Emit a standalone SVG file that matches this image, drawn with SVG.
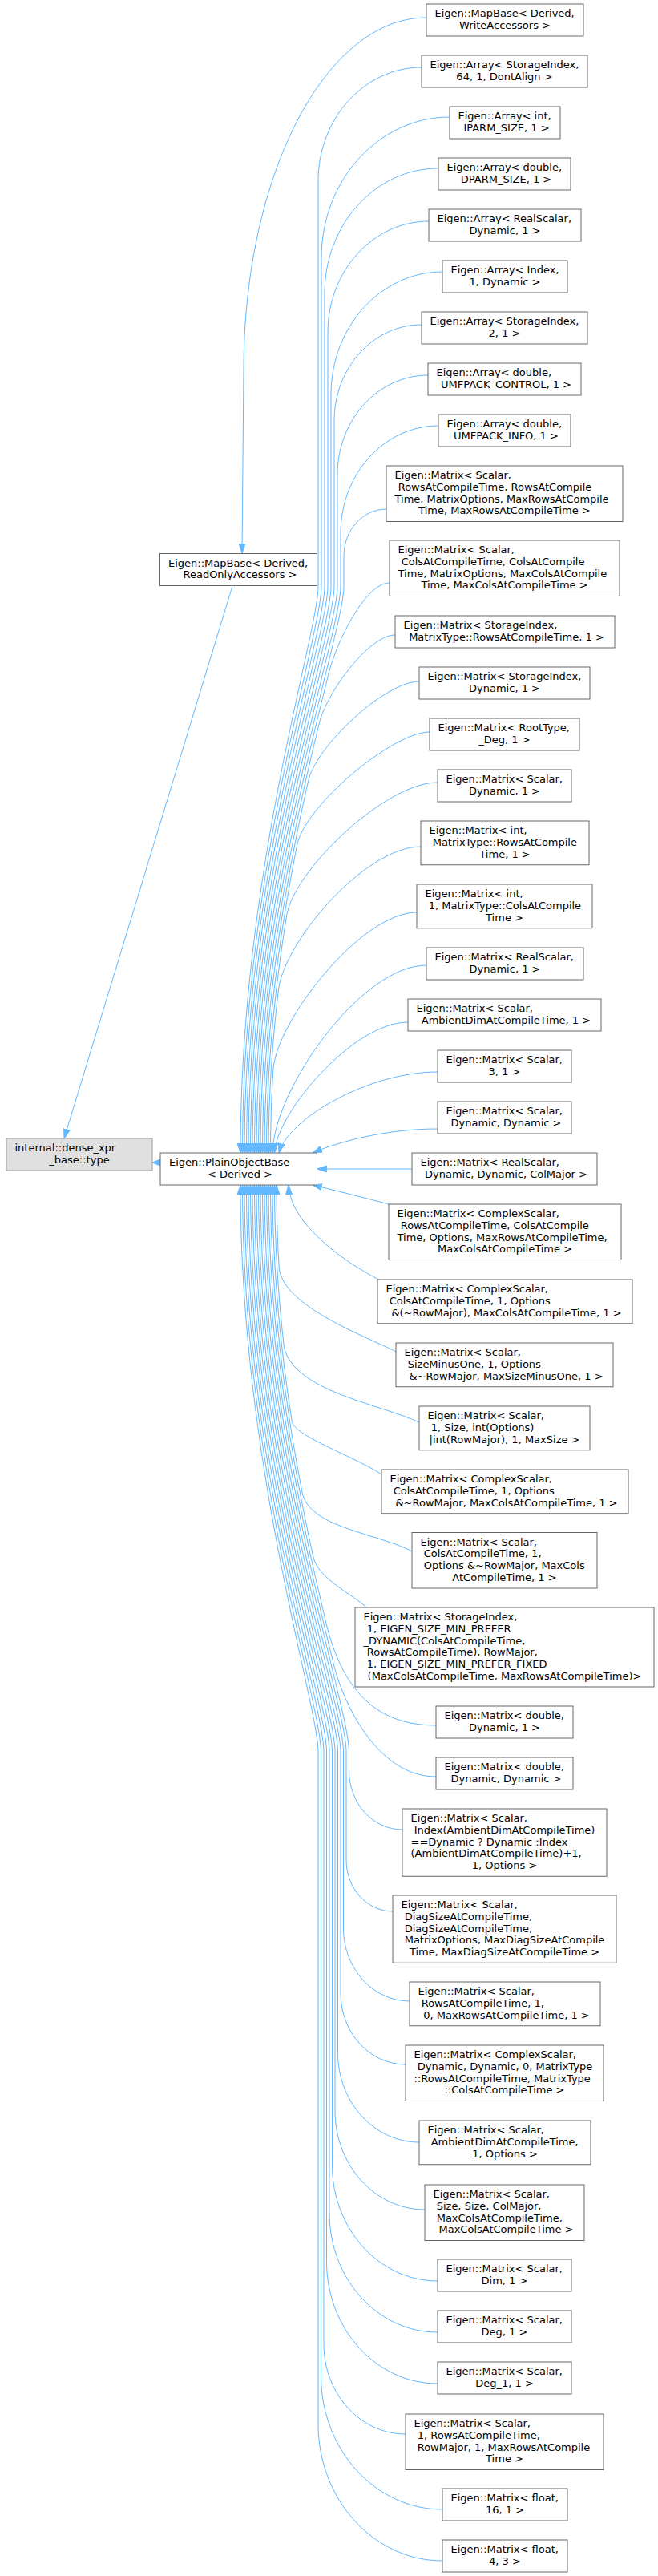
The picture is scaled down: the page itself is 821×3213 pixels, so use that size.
<svg xmlns="http://www.w3.org/2000/svg" width="821" height="3213" viewBox="0 0 821 3213">
<style>
.n rect{fill:#fff;stroke:#666;stroke-width:1}
.cur rect{fill:#e0e0e0;stroke:#999;stroke-width:1}
text{font-family:"DejaVu Sans","Liberation Sans",sans-serif;font-size:13px;fill:#000}
.m{text-anchor:middle}
.e path{fill:none;stroke:#63b8ff;stroke-width:1;marker-end:url(#ah)}
.e path.nm{marker-end:none}
.e polygon{fill:#63b8ff;stroke:#63b8ff;stroke-width:1}
</style>
<defs>
<marker id="ah" markerWidth="12" markerHeight="10" refX="12" refY="5" orient="auto" markerUnits="userSpaceOnUse"><path d="M0,1 L12,5 L0,9 z" fill="#63b8ff" stroke="#63b8ff" stroke-width="1"/></marker>
</defs>
<rect x="0" y="0" width="821" height="3213" fill="#fff"/>
<g class="e" id="edges">
<path d="M532,22 C406,22 304,219 304,462 L302,690"/>
<path d="M290,731 L80,1420"/>
<path class="nm" d="M200,1450 L195,1450"/>
<polygon points="190,1450 200,1446 200,1454"/>
<path d="M526,84 C454.8,84 397,147.6 397,225.9 L397,731 C397,791 300,1088 300,1438"/>
<path d="M561,146 C472.7,146 401,224.8 401,322 L401,731 C401,791 302.5,1088 302.5,1438"/>
<path d="M547,210 C468.6,210 405,280 405,366.2 L405,731 C405,791 305,1088 305,1438"/>
<path d="M535,276 C465.4,276 409,338.1 409,414.6 L409,731 C409,791 307.5,1088 307.5,1438"/>
<path d="M552,339 C475.3,339 413,407.5 413,491.9 L413,731 C413,791 310,1088 310,1438"/>
<path d="M526,405 C465.8,405 417,458.7 417,524.9 L417,731 C417,791 312.5,1088 312.5,1438"/>
<path d="M534,468 C471.6,468 421,523.7 421,592.3 L421,731 C421,791 315,1088 315,1438"/>
<path d="M547,531 C479.7,531 425,591.1 425,665.2 L425,731 C425,791 317.5,1088 317.5,1438"/>
<path d="M482,635 C452.7,635 429,661.1 429,693.3 L429,731 C429,791 320,1088 320,1438"/>
<path d="M486,727 C455,727 417.7,804.9 409.1,844 C376.6,974 322.5,1193 322.5,1438"/>
<path d="M493,792 C460,792 405.9,865.8 397.6,904.9 C365.3,1037.1 325,1228 325,1438"/>
<path d="M523,850 C480,850 392.85,931.6 384.25,975.75 C355.85,1101.25 327.5,1263 327.5,1438"/>
<path d="M536,913 C490,913 378.7,1005.9 370.4,1055.2 C348.4,1166.5 330,1298 330,1438"/>
<path d="M546,976 C480,976 365,1087.8 357.6,1142.3 C343,1232.8 332.5,1333 332.5,1438"/>
<path d="M525,1056 C455,1056 353.1,1176.1 347.3,1235.8 C339.7,1300.1 335,1368 335,1438"/>
<path d="M520,1138 C450,1138 343.9,1274.9 340.8,1334.8 C338.7,1368.5 337.5,1403 337.5,1438"/>
<path d="M532,1204 C450,1204 341,1360 340,1438"/>
<path d="M509,1275 C440,1275 344,1390 342.5,1438"/>
<path d="M546,1337 C460,1337 360,1395 348,1438"/>
<path d="M546,1408 C480,1408 420,1425 390,1438"/>
<path d="M514,1458 L395.5,1458"/>
<path d="M485,1502 C455,1494 415,1484 390,1478"/>
<path d="M473,1596 C440,1580 362,1530 360,1478"/>
<path d="M494,1686 C460,1668 352.5,1630 348.2,1581.2 C346.2,1547.5 345,1513 345,1478"/>
<path d="M523,1774 C470,1750 366.8,1735 354.4,1680.2 C347.1,1615.9 342.5,1548 342.5,1478"/>
<path d="M476,1839 C445,1818 369.5,1792 364.4,1773.7 C350.1,1683.2 340,1583 340,1478"/>
<path d="M514,1935 C470,1912 384.3,1905.2 376.9,1860.8 C355.4,1749.5 337.5,1618 337.5,1478"/>
<path d="M457,2005 C440,1988 396.2,1969.7 390.5,1940.25 C362.75,1814.75 335,1653 335,1478"/>
<path d="M544,2152 C455,2152 420.4,2089.3 403.8,2011.1 C372.1,1878.9 332.5,1688 332.5,1478"/>
<path d="M544,2216 C470,2216 426.2,2120.9 415.45,2072 C383.4,1942 330,1723 330,1478"/>
<path d="M502,2282 C465.3,2282 435.5,2249.2 435.5,2208.85 L435.5,2185 C435.5,2125 327.5,1828 327.5,1478"/>
<path d="M490,2384 C458,2384 432,2355.4 432,2320.2 L432,2185 C432,2125 325,1828 325,1478"/>
<path d="M511,2496 C465.5,2496 428.5,2455.3 428.5,2405.25 L428.5,2185 C428.5,2125 322.5,1828 322.5,1478"/>
<path d="M506,2575 C461.3,2575 425,2535.1 425,2485.9 L425,2185 C425,2125 320,1828 320,1478"/>
<path d="M523,2672 C467,2672 421.5,2622 421.5,2560.35 L421.5,2185 C421.5,2125 317.5,1828 317.5,1478"/>
<path d="M530,2756 C468.2,2756 418,2700.8 418,2632.8 L418,2185 C418,2125 315,1828 315,1478"/>
<path d="M546,2845 C473.4,2845 414.5,2780.2 414.5,2700.35 L414.5,2185 C414.5,2125 312.5,1828 312.5,1478"/>
<path d="M546,2909 C471.5,2909 411,2842.5 411,2760.5 L411,2185 C411,2125 310,1828 310,1478"/>
<path d="M546,2973 C469.5,2973 407.5,2904.7 407.5,2820.65 L407.5,2185 C407.5,2125 307.5,1828 307.5,1478"/>
<path d="M506,3036 C449.7,3036 404,2985.7 404,2923.8 L404,2185 C404,2125 305,1828 305,1478"/>
<path d="M552,3130 C468.4,3130 400.5,3055.3 400.5,2963.35 L400.5,2185 C400.5,2125 302.5,1828 302.5,1478"/>
<path d="M552,3194 C466.4,3194 397,3117.6 397,3023.5 L397,2185 C397,2125 300,1828 300,1478"/>
</g>
<g id="internal" class="n cur"><rect x="8" y="1420" width="182" height="40"/><text x="18.5" y="1436">internal::dense_xpr</text><text class="m" x="99" y="1450.75">_base::type</text></g>
<g id="mapbase_ro" class="n"><rect x="199.5" y="690.5" width="196" height="40"/><text x="210" y="706.5">Eigen::MapBase&lt; Derived,</text><text class="m" x="299.5" y="721.25">ReadOnlyAccessors &gt;</text></g>
<g id="plainobjectbase" class="n"><rect x="200" y="1438" width="195.5" height="40"/><text x="211" y="1454">Eigen::PlainObjectBase</text><text class="m" x="299.5" y="1468.75">&lt; Derived &gt;</text></g>
<g id="n1" class="n"><rect x="532" y="5" width="196" height="40"/><text x="542.5" y="21">Eigen::MapBase&lt; Derived,</text><text class="m" x="630" y="35.75">WriteAccessors &gt;</text></g>
<g id="n2" class="n"><rect x="526" y="69" width="207" height="40"/><text x="536.5" y="85">Eigen::Array&lt; StorageIndex,</text><text class="m" x="629.5" y="99.75">64, 1, DontAlign &gt;</text></g>
<g id="n3" class="n"><rect x="561" y="133" width="138" height="40"/><text x="571.5" y="149">Eigen::Array&lt; int,</text><text class="m" x="632" y="163.75">IPARM_SIZE, 1 &gt;</text></g>
<g id="n4" class="n"><rect x="547" y="197" width="165" height="40"/><text x="557.5" y="213">Eigen::Array&lt; double,</text><text class="m" x="631.5" y="227.75">DPARM_SIZE, 1 &gt;</text></g>
<g id="n5" class="n"><rect x="535" y="261" width="190" height="40"/><text x="545.5" y="277">Eigen::Array&lt; RealScalar,</text><text class="m" x="630" y="291.75">Dynamic, 1 &gt;</text></g>
<g id="n6" class="n"><rect x="552" y="325" width="156" height="40"/><text x="562.5" y="341">Eigen::Array&lt; Index,</text><text class="m" x="630" y="355.75">1, Dynamic &gt;</text></g>
<g id="n7" class="n"><rect x="526" y="389" width="207" height="40"/><text x="536.5" y="405">Eigen::Array&lt; StorageIndex,</text><text class="m" x="629.5" y="419.75">2, 1 &gt;</text></g>
<g id="n8" class="n"><rect x="534" y="453" width="191" height="40"/><text x="544.5" y="469">Eigen::Array&lt; double,</text><text class="m" x="631.5" y="483.75">UMFPACK_CONTROL, 1 &gt;</text></g>
<g id="n9" class="n"><rect x="547" y="517" width="165" height="40"/><text x="557.5" y="533">Eigen::Array&lt; double,</text><text class="m" x="631.5" y="547.75">UMFPACK_INFO, 1 &gt;</text></g>
<g id="n10" class="n"><rect x="482" y="581" width="295" height="69.5"/><text x="492.5" y="597">Eigen::Matrix&lt; Scalar,</text><text x="496.7" y="611.75">RowsAtCompileTime, RowsAtCompile</text><text x="492.5" y="626.5">Time, MatrixOptions, MaxRowsAtCompile</text><text class="m" x="629.5" y="641.25">Time, MaxRowsAtCompileTime &gt;</text></g>
<g id="n11" class="n"><rect x="486" y="674" width="287" height="69.5"/><text x="496.5" y="690">Eigen::Matrix&lt; Scalar,</text><text x="500.7" y="704.75">ColsAtCompileTime, ColsAtCompile</text><text x="496.5" y="719.5">Time, MatrixOptions, MaxColsAtCompile</text><text class="m" x="629.5" y="734.25">Time, MaxColsAtCompileTime &gt;</text></g>
<g id="n12" class="n"><rect x="493" y="768" width="274" height="40"/><text x="503.5" y="784">Eigen::Matrix&lt; StorageIndex,</text><text class="m" x="632" y="798.75">MatrixType::RowsAtCompileTime, 1 &gt;</text></g>
<g id="n13" class="n"><rect x="523" y="832" width="213" height="40"/><text x="533.5" y="848">Eigen::Matrix&lt; StorageIndex,</text><text class="m" x="629.5" y="862.75">Dynamic, 1 &gt;</text></g>
<g id="n14" class="n"><rect x="536" y="896" width="187" height="40"/><text x="546.5" y="912">Eigen::Matrix&lt; RootType,</text><text class="m" x="629.5" y="926.75">_Deg, 1 &gt;</text></g>
<g id="n15" class="n"><rect x="546" y="960" width="167" height="40"/><text x="556.5" y="976">Eigen::Matrix&lt; Scalar,</text><text class="m" x="629.5" y="990.75">Dynamic, 1 &gt;</text></g>
<g id="n16" class="n"><rect x="525" y="1024" width="210" height="54.75"/><text x="535.5" y="1040">Eigen::Matrix&lt; int,</text><text x="539.7" y="1054.75">MatrixType::RowsAtCompile</text><text class="m" x="630" y="1069.5">Time, 1 &gt;</text></g>
<g id="n17" class="n"><rect x="520" y="1103" width="219" height="54.75"/><text x="530.5" y="1119">Eigen::Matrix&lt; int,</text><text x="534.7" y="1133.75">1, MatrixType::ColsAtCompile</text><text class="m" x="629.5" y="1148.5">Time &gt;</text></g>
<g id="n18" class="n"><rect x="532" y="1182" width="196" height="40"/><text x="542.5" y="1198">Eigen::Matrix&lt; RealScalar,</text><text class="m" x="630" y="1212.75">Dynamic, 1 &gt;</text></g>
<g id="n19" class="n"><rect x="509" y="1246" width="241" height="40"/><text x="519.5" y="1262">Eigen::Matrix&lt; Scalar,</text><text class="m" x="631.5" y="1276.75">AmbientDimAtCompileTime, 1 &gt;</text></g>
<g id="n20" class="n"><rect x="546" y="1310" width="167" height="40"/><text x="556.5" y="1326">Eigen::Matrix&lt; Scalar,</text><text class="m" x="629.5" y="1340.75">3, 1 &gt;</text></g>
<g id="n21" class="n"><rect x="546" y="1374" width="167" height="40"/><text x="556.5" y="1390">Eigen::Matrix&lt; Scalar,</text><text class="m" x="631.5" y="1404.75">Dynamic, Dynamic &gt;</text></g>
<g id="n22" class="n"><rect x="514" y="1438" width="231" height="40"/><text x="524.5" y="1454">Eigen::Matrix&lt; RealScalar,</text><text class="m" x="631.5" y="1468.75">Dynamic, Dynamic, ColMajor &gt;</text></g>
<g id="n23" class="n"><rect x="485" y="1502" width="290" height="69.5"/><text x="495.5" y="1518">Eigen::Matrix&lt; ComplexScalar,</text><text x="499.7" y="1532.75">RowsAtCompileTime, ColsAtCompile</text><text x="495.5" y="1547.5">Time, Options, MaxRowsAtCompileTime,</text><text class="m" x="630" y="1562.25">MaxColsAtCompileTime &gt;</text></g>
<g id="n24" class="n"><rect x="471" y="1596" width="318" height="54.75"/><text x="481.5" y="1612">Eigen::Matrix&lt; ComplexScalar,</text><text x="485.7" y="1626.75">ColsAtCompileTime, 1, Options</text><text class="m" x="632" y="1641.5">&amp;(~RowMajor), MaxColsAtCompileTime, 1 &gt;</text></g>
<g id="n25" class="n"><rect x="494" y="1675" width="271" height="54.75"/><text x="504.5" y="1691">Eigen::Matrix&lt; Scalar,</text><text x="508.7" y="1705.75">SizeMinusOne, 1, Options</text><text class="m" x="631.5" y="1720.5">&amp;~RowMajor, MaxSizeMinusOne, 1 &gt;</text></g>
<g id="n26" class="n"><rect x="523" y="1754" width="213" height="54.75"/><text x="533.5" y="1770">Eigen::Matrix&lt; Scalar,</text><text x="537.7" y="1784.75">1, Size, int(Options)</text><text class="m" x="629.5" y="1799.5">|int(RowMajor), 1, MaxSize &gt;</text></g>
<g id="n27" class="n"><rect x="476" y="1833" width="308" height="54.75"/><text x="486.5" y="1849">Eigen::Matrix&lt; ComplexScalar,</text><text x="490.7" y="1863.75">ColsAtCompileTime, 1, Options</text><text class="m" x="632" y="1878.5">&amp;~RowMajor, MaxColsAtCompileTime, 1 &gt;</text></g>
<g id="n28" class="n"><rect x="514" y="1911.5" width="231" height="69.5"/><text x="524.5" y="1927.5">Eigen::Matrix&lt; Scalar,</text><text x="528.7" y="1942.25">ColsAtCompileTime, 1,</text><text x="528.7" y="1957">Options &amp;~RowMajor, MaxCols</text><text class="m" x="629.5" y="1971.75">AtCompileTime, 1 &gt;</text></g>
<g id="n29" class="n"><rect x="443" y="2005" width="373" height="99"/><text x="453.5" y="2021">Eigen::Matrix&lt; StorageIndex,</text><text x="457.7" y="2035.75">1, EIGEN_SIZE_MIN_PREFER</text><text x="453.5" y="2050.5">_DYNAMIC(ColsAtCompileTime,</text><text x="457.7" y="2065.25">RowsAtCompileTime), RowMajor,</text><text x="457.7" y="2080">1, EIGEN_SIZE_MIN_PREFER_FIXED</text><text class="m" x="629.5" y="2094.75">(MaxColsAtCompileTime, MaxRowsAtCompileTime)&gt;</text></g>
<g id="n30" class="n"><rect x="544" y="2128" width="171" height="40"/><text x="554.5" y="2144">Eigen::Matrix&lt; double,</text><text class="m" x="629.5" y="2158.75">Dynamic, 1 &gt;</text></g>
<g id="n31" class="n"><rect x="544" y="2192" width="171" height="40"/><text x="554.5" y="2208">Eigen::Matrix&lt; double,</text><text class="m" x="631.5" y="2222.75">Dynamic, Dynamic &gt;</text></g>
<g id="n32" class="n"><rect x="502" y="2256" width="255" height="84.25"/><text x="512.5" y="2272">Eigen::Matrix&lt; Scalar,</text><text x="516.7" y="2286.75">Index(AmbientDimAtCompileTime)</text><text x="512.5" y="2301.5">==Dynamic ? Dynamic :Index</text><text x="512.5" y="2316.25">(AmbientDimAtCompileTime)+1,</text><text class="m" x="629.5" y="2331">1, Options &gt;</text></g>
<g id="n33" class="n"><rect x="490" y="2364" width="279" height="84.25"/><text x="500.5" y="2380">Eigen::Matrix&lt; Scalar,</text><text x="504.7" y="2394.75">DiagSizeAtCompileTime,</text><text x="504.7" y="2409.5">DiagSizeAtCompileTime,</text><text x="504.7" y="2424.25">MatrixOptions, MaxDiagSizeAtCompile</text><text class="m" x="629.5" y="2439">Time, MaxDiagSizeAtCompileTime &gt;</text></g>
<g id="n34" class="n"><rect x="511" y="2472" width="238" height="54.75"/><text x="521.5" y="2488">Eigen::Matrix&lt; Scalar,</text><text x="525.7" y="2502.75">RowsAtCompileTime, 1,</text><text class="m" x="632" y="2517.5">0, MaxRowsAtCompileTime, 1 &gt;</text></g>
<g id="n35" class="n"><rect x="506" y="2551" width="247" height="69.5"/><text x="516.5" y="2567">Eigen::Matrix&lt; ComplexScalar,</text><text x="520.7" y="2581.75">Dynamic, Dynamic, 0, MatrixType</text><text x="516.5" y="2596.5">::RowsAtCompileTime, MatrixType</text><text class="m" x="629.5" y="2611.25">::ColsAtCompileTime &gt;</text></g>
<g id="n36" class="n"><rect x="523" y="2645" width="214" height="54.75"/><text x="533.5" y="2661">Eigen::Matrix&lt; Scalar,</text><text x="537.7" y="2675.75">AmbientDimAtCompileTime,</text><text class="m" x="630" y="2690.5">1, Options &gt;</text></g>
<g id="n37" class="n"><rect x="530" y="2725" width="199" height="69.5"/><text x="540.5" y="2741">Eigen::Matrix&lt; Scalar,</text><text x="544.7" y="2755.75">Size, Size, ColMajor,</text><text x="544.7" y="2770.5">MaxColsAtCompileTime,</text><text class="m" x="631.5" y="2785.25">MaxColsAtCompileTime &gt;</text></g>
<g id="n38" class="n"><rect x="546" y="2818" width="167" height="40"/><text x="556.5" y="2834">Eigen::Matrix&lt; Scalar,</text><text class="m" x="629.5" y="2848.75">Dim, 1 &gt;</text></g>
<g id="n39" class="n"><rect x="546" y="2882" width="167" height="40"/><text x="556.5" y="2898">Eigen::Matrix&lt; Scalar,</text><text class="m" x="629.5" y="2912.75">Deg, 1 &gt;</text></g>
<g id="n40" class="n"><rect x="546" y="2946" width="167" height="40"/><text x="556.5" y="2962">Eigen::Matrix&lt; Scalar,</text><text class="m" x="629.5" y="2976.75">Deg_1, 1 &gt;</text></g>
<g id="n41" class="n"><rect x="506" y="3011" width="247" height="69.5"/><text x="516.5" y="3027">Eigen::Matrix&lt; Scalar,</text><text x="520.7" y="3041.75">1, RowsAtCompileTime,</text><text x="520.7" y="3056.5">RowMajor, 1, MaxRowsAtCompile</text><text class="m" x="629.5" y="3071.25">Time &gt;</text></g>
<g id="n42" class="n"><rect x="552" y="3104" width="156" height="40"/><text x="562.5" y="3120">Eigen::Matrix&lt; float,</text><text class="m" x="630" y="3134.75">16, 1 &gt;</text></g>
<g id="n43" class="n"><rect x="552" y="3168" width="156" height="40"/><text x="562.5" y="3184">Eigen::Matrix&lt; float,</text><text class="m" x="630" y="3198.75">4, 3 &gt;</text></g>
</svg>
